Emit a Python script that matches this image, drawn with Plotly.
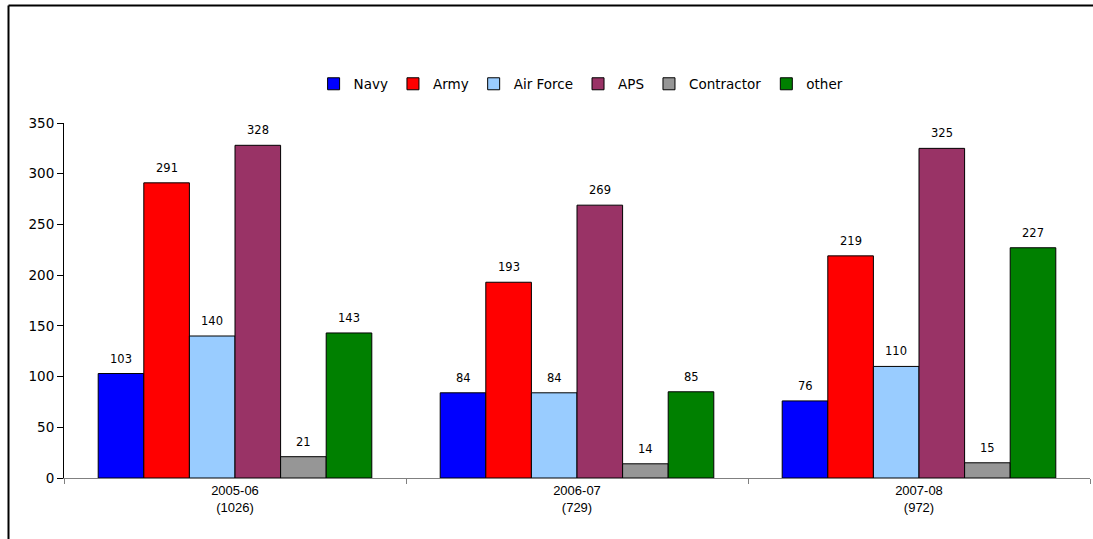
import plotly.graph_objects as go

categories = ["2005-06<br>(1026)", "2006-07<br>(729)", "2007-08<br>(972)"]
series_names = ["Navy", "Army", "Air Force", "APS", "Contractor", "other"]
navy = [103, 84, 76]
army = [291, 193, 219]
air_force = [140, 84, 110]
aps = [328, 269, 325]
contractor = [21, 14, 15]
other = [143, 85, 227]
colors = ["#0000FF", "#FF0000", "#99CCFF", "#993366", "#969696", "#008000"]
y_ticks = [0, 50, 100, 150, 200, 250, 300, 350]

values = [navy, army, air_force, aps, contractor, other]

W, H = 1093, 539
l, r, t, b = 64, 3, 123, 61
pw, ph = W - l - r, H - t - b
bargap = 0.2
n_series = len(series_names)
bar_px = pw / len(categories) * (1 - bargap) / n_series

fig = go.Figure()
for i, (name, vals, col) in enumerate(zip(series_names, values, colors)):
    fig.add_trace(go.Bar(
        x=categories, y=vals, name=name,
        marker=dict(color=col, line=dict(color="#000000", width=1)),
    ))
    for c, v in zip(categories, vals):
        fig.add_annotation(
            x=c, y=v, xref="x", yref="y", text=str(v), showarrow=False,
            xanchor="center", yanchor="bottom",
            xshift=(i - (n_series - 1) / 2) * bar_px, yshift=6,
            font=dict(family="DejaVu Sans", size=11.5, color="#000000"),
        )

def px2x(px):
    return (px - l) / pw

def py2y(py):
    return (H - b - py) / ph

fig.add_shape(type="line", xref="paper", yref="paper",
              x0=px2x(8.5), x1=px2x(W), y0=py2y(5.5), y1=py2y(5.5),
              line=dict(color="#000000", width=2))
fig.add_shape(type="line", xref="paper", yref="paper",
              x0=px2x(8.5), x1=px2x(8.5), y0=py2y(5.5), y1=py2y(H),
              line=dict(color="#000000", width=2))

fig.update_layout(
    width=W, height=H,
    margin=dict(l=l, r=r, t=t, b=b),
    paper_bgcolor="white", plot_bgcolor="white",
    barmode="group", bargap=bargap, bargroupgap=0,
    font=dict(family="Liberation Sans, Arial", size=13, color="#000000"),
    showlegend=True,
    legend=dict(orientation="h", x=0.504, xanchor="center", y=py2y(84), yanchor="middle",
                font=dict(family="DejaVu Sans", size=13.5), itemwidth=30, traceorder="normal"),
    yaxis=dict(range=[0, 350], tickvals=y_ticks, showgrid=False, zeroline=False,
               showline=True, linecolor="#000000", linewidth=1,
               ticks="outside", ticklen=6, tickcolor="#000000",
               tickfont=dict(family="DejaVu Sans", size=13.5)),
    xaxis=dict(showgrid=False, showline=True, linecolor="#808080", linewidth=1,
               ticks="outside", tickson="boundaries", ticklen=5, tickcolor="#808080",
               tickfont=dict(family="Liberation Sans Narrow, Liberation Sans, Arial", size=13)),
)

fig.write_html("out.html", config={"displayModeBar": False})
